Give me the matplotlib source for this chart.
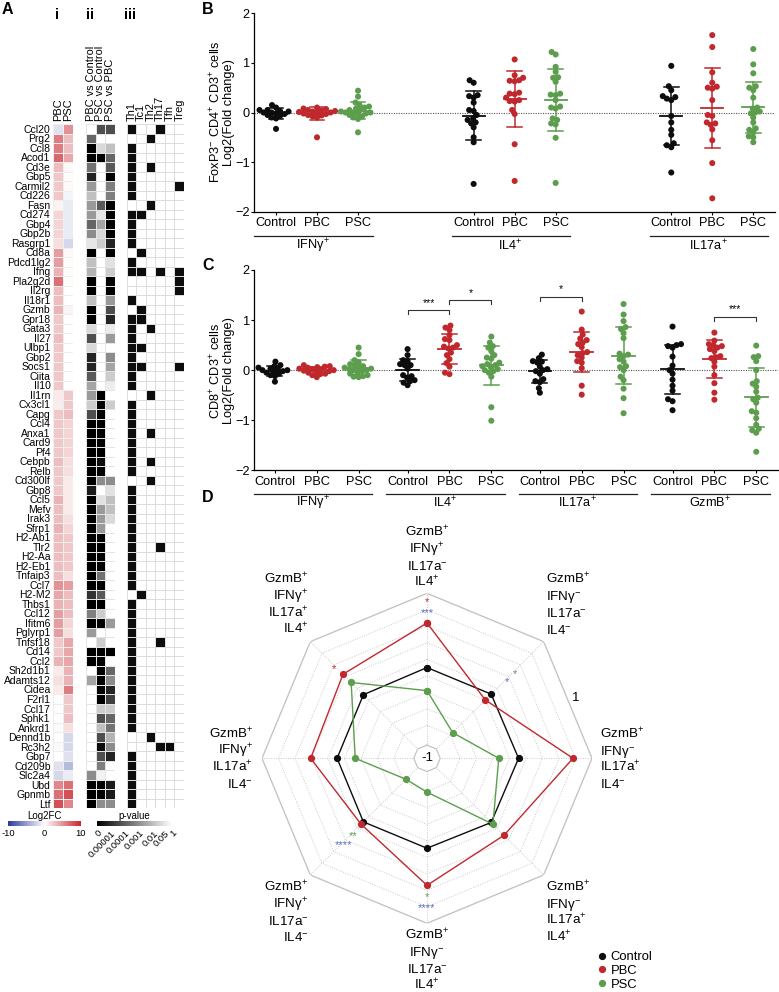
"""Figure: PBC/PSC gene signature heatmaps, T cell cytokine strip plots and radar chart."""

import numpy as np
import matplotlib

matplotlib.use("Agg")
import matplotlib.pyplot as plt
from matplotlib.colors import LinearSegmentedColormap
from matplotlib.lines import Line2D
from matplotlib.transforms import blended_transform_factory

plt.rcParams["font.family"] = ["Liberation Sans", "DejaVu Sans"]
plt.rcParams["mathtext.fontset"] = "custom"
plt.rcParams["mathtext.rm"] = "Liberation Sans"
plt.rcParams["mathtext.sf"] = "Liberation Sans"
plt.rcParams["mathtext.it"] = "Liberation Sans:italic"
plt.rcParams["mathtext.bf"] = "Liberation Sans:bold"

W, H = 779, 992

# ---------------- panel A data ----------------
genes = [
    "Ccl20", "Prg2", "Ccl8", "Acod1", "Cd3e", "Gbp5", "Carmil2", "Cd226", "Fasn", "Cd274",
    "Gbp4", "Gbp2b", "Rasgrp1", "Cd8a", "Pdcd1lg2", "Ifng", "Pla2g2d", "Il2rg", "Il18r1", "Gzmb",
    "Gpr18", "Gata3", "Il27", "Ulbp1", "Gbp2", "Socs1", "Ciita", "Il10", "Il1rn", "Cx3cl1",
    "Capg", "Ccl4", "Anxa1", "Card9", "Pf4", "Cebpb", "Relb", "Cd300lf", "Gbp8", "Ccl5",
    "Mefv", "Irak3", "Sfrp1", "H2-Ab1", "Tlr2", "H2-Aa", "H2-Eb1", "Tnfaip3", "Ccl7", "H2-M2",
    "Thbs1", "Ccl12", "Ifitm6", "Pglyrp1", "Tnfsf18", "Cd14", "Ccl2", "Sh2d1b1", "Adamts12", "Cidea",
    "F2rl1", "Ccl17", "Sphk1", "Ankrd1", "Dennd1b", "Rc3h2", "Gbp7", "Cd209b", "Slc2a4", "Ubd",
    "Gpnmb", "Ltf",
]

log2fc_pbc = [
    -1.5, 6, 6, 7, 3, 2.5, 2.5, 2.5, 0.5, 2,
    2, 2, 1.5, 4.5, 4.5, 3.5, 6.5, 3, 3, 3.5,
    2.5, 2.5, 3, 2.5, 2.5, 2.5, 2.5, 2.5, 1, 0.8,
    2.5, 2.5, 2.5, 2.5, 2.5, 3, 2.5, 2.5, 2.5, 3.5,
    3, 3, 3.5, 3, 3, 3, 3, 3, 5, 4,
    3.5, 4.5, 4.5, 4.5, 2.5, 2.5, 3.5, 1, 1.5, 1,
    0, 0, 0, -0.3, 0, -0.3, 0, -1.5, -2, 5.5,
    6.5, 8,
]
log2fc_psc = [
    5, 3, 3, 4, 0.3, 0.2, 0.3, -0.5, -1, -1,
    -1, -1, -2, 0.3, 0.2, 0.2, 0.2, 0, 0, 0.5,
    0, 0, 0, 0, 0, 0, 0, 0, 2.5, 2.5,
    3, 2, 2, 2, 2, 1.5, 1.5, 1, 1, 1,
    1, 1.5, 2, 2.5, 2.5, 2.5, 2.5, 1.5, 4.5, 3,
    3, 3, 2, 1.5, 4, 4, 4, 3.5, 3.5, 6,
    2.5, 2.5, 3, 1.5, -2, -2, -1.5, -3.5, -1, 6.5,
    8, 5.5,
]

p_pbc_vs_control = [
    1, 2.4e-4, 0, 0, 4.8e-4, 8e-6, 3e-3, 0.01, 3e-3, 3e-3,
    2.4e-4, 9.5e-4, 0.05, 0, 0.01, 7.6e-3, 0, 0, 0.01, 0,
    0, 0.037, 7e-5, 0.037, 8e-6, 8e-6, 9e-5, 5e-3, 3e-3, 0.023,
    7e-5, 0, 0, 0, 0, 0, 0, 0, 6e-6, 0,
    0, 0, 0, 0, 0, 0, 0, 0, 0, 1.9e-5,
    0, 7e-4, 0, 3e-3, 1, 0, 0, 1, 5e-3, 1,
    1, 1, 1, 1, 1, 1, 1, 1, 9.5e-4, 0,
    0, 0,
]
p_psc_vs_control = [
    7e-5, 1, 0.037, 0, 1, 1, 1, 1, 9e-5, 0.05,
    5e-3, 0.037, 0.023, 1, 1, 1, 1, 1, 1, 1,
    1, 1, 1, 1, 1, 1, 1, 1, 0, 0,
    0, 0, 0, 0, 0, 3e-6, 0, 9.5e-4, 1, 0.045,
    3e-3, 3e-3, 3e-3, 0, 0, 0, 0, 4.8e-4, 0, 9e-5,
    0, 0.023, 0, 1, 0.023, 0, 0, 0, 0, 0,
    0, 0.023, 7e-5, 0.01, 7e-5, 3e-6, 7e-5, 7e-4, 0.5, 0,
    0, 9.5e-4,
]
p_psc_vs_pbc = [
    7e-5, 1, 0.01, 2.4e-4, 9e-5, 0, 7e-4, 7e-4, 0, 0,
    0, 0, 8e-6, 0, 0.045, 0.023, 0, 0, 3e-3, 7e-5,
    8e-6, 0.24, 3e-3, 1, 9.5e-4, 5e-3, 0.023, 0.33, 1, 0.023,
    1, 1, 1, 1, 1, 1, 1, 9.5e-4, 0.045, 0.01,
    0.01, 0.037, 1, 1, 1, 1, 1, 1, 1, 1,
    1, 1, 3e-3, 1, 1, 0, 1, 2.4e-4, 9.5e-4, 8e-6,
    4.3e-5, 0.023, 2.4e-4, 4.8e-4, 7.6e-3, 9.5e-4, 8e-6, 1, 1, 6e-6,
    6e-6, 9.5e-4,
]

subset_names = ["Th1", "Tc1", "Th2", "Th17", "Tfh", "Treg"]
not_th1 = ["Prg2", "Fasn", "Cd8a", "Pla2g2d", "Il2rg", "Gzmb", "Il1rn", "Cd300lf",
           "H2-M2", "Dennd1b", "Rc3h2"]
tc1_genes = ["Cd274", "Cd8a", "Ifng", "Gzmb", "Gpr18", "Ulbp1", "Socs1", "H2-M2"]
th2_genes = ["Prg2", "Cd3e", "Fasn", "Gata3", "Il1rn", "Anxa1", "Cebpb", "Cd300lf", "Dennd1b"]
th17_genes = ["Ccl20", "Ifng", "Tlr2", "Tnfsf18", "Rc3h2"]
tfh_genes = ["Rc3h2"]
treg_genes = ["Carmil2", "Ifng", "Pla2g2d", "Il2rg", "Socs1"]

p_ticks = [0, 1e-5, 1e-4, 1e-3, 1e-2, 0.05, 1]
p_tick_labels = ["0", "0.00001", "0.0001", "0.001", "0.01", "0.05", "1"]

# ---------------- panel B data ----------------
b_ifng_ctrl = [0.15, 0.1, 0.05, 0.05, 0.03, 0.02, 0.0, 0.0, -0.02, -0.03, -0.05, -0.07, -0.1, -0.12, -0.33]
b_ifng_pbc = [0.1, 0.08, 0.07, 0.05, 0.04, 0.03, 0.02, 0.01, 0.0, 0.0, -0.02, -0.03, -0.05, -0.06, -0.08, -0.1, -0.5]
b_ifng_psc = [0.44, 0.32, 0.2, 0.15, 0.12, 0.1, 0.08, 0.05, 0.05, 0.02, 0.0, 0.0, 0.0, -0.02, -0.03,
              -0.05, -0.08, -0.1, -0.13, -0.4]
b_il4_ctrl = [0.65, 0.6, 0.35, 0.33, 0.3, 0.2, 0.05, 0.03, -0.05, -0.12, -0.15, -0.2, -0.22, -0.3, -0.5,
              -0.6, -1.44]
b_il4_pbc = [1.07, 0.75, 0.7, 0.65, 0.64, 0.63, 0.4, 0.38, 0.37, 0.3, 0.25, 0.23, 0.22, 0.05, -0.03,
             -0.64, -1.38]
b_il4_psc = [1.22, 1.17, 0.92, 0.82, 0.71, 0.70, 0.62, 0.38, 0.36, 0.35, 0.25, 0.12, 0.10, 0.08, -0.12,
             -0.15, -0.22, -0.24, -0.51, -1.42]
b_il17_ctrl = [0.94, 0.53, 0.45, 0.33, 0.31, 0.28, 0.25, -0.07, -0.2, -0.35, -0.45, -0.62, -0.66, -0.7, -1.21]
b_il17_pbc = [1.56, 1.32, 0.81, 0.6, 0.52, 0.5, 0.48, 0.25, -0.05, -0.07, -0.2, -0.22, -0.25, -0.34,
              -0.56, -1.02, -1.73]
b_il17_psc = [1.28, 0.97, 0.79, 0.53, 0.5, 0.45, 0.3, 0.1, 0.08, 0.02, 0.0, -0.02, -0.1, -0.2, -0.32,
              -0.35, -0.4, -0.48, -0.5, -0.6]

# ---------------- panel C data ----------------
c_ifng_ctrl = [0.17, 0.1, 0.08, 0.05, 0.03, 0.02, 0.0, 0.0, -0.02, -0.03, -0.05, -0.07, -0.1, -0.12, -0.23]
c_ifng_pbc = [0.1, 0.08, 0.07, 0.06, 0.05, 0.03, 0.02, 0.01, 0.0, -0.01, -0.02, -0.03, -0.05, -0.07,
              -0.08, -0.1, -0.14]
c_ifng_psc = [0.45, 0.32, 0.2, 0.15, 0.12, 0.1, 0.08, 0.05, 0.05, 0.03, 0.02, 0.0, 0.0, -0.02, -0.05,
              -0.07, -0.1, -0.12, -0.13, -0.14]
c_il4_ctrl = [0.42, 0.3, 0.2, 0.1, 0.18, 0.12, 0.1, 0.03, -0.12, -0.15, -0.1, -0.2, -0.22, -0.25, -0.3]
c_il4_pbc = [0.89, 0.85, 0.8, 0.7, 0.62, 0.6, 0.5, 0.47, 0.45, 0.43, 0.35, 0.3, 0.22, 0.14, 0.07, -0.05, -0.08]
c_il4_psc = [0.67, 0.55, 0.48, 0.45, 0.38, 0.3, 0.25, 0.23, 0.15, 0.12, 0.1, 0.08, 0.06, 0.02, 0.0,
             -0.02, -0.05, -0.13, -0.74, -1.01]
c_il17_ctrl = [0.31, 0.24, 0.18, 0.17, 0.15, 0.07, 0.02, 0.0, -0.02, -0.07, -0.18, -0.22, -0.24, -0.36, -0.45]
c_il17_pbc = [1.17, 0.81, 0.71, 0.63, 0.6, 0.55, 0.52, 0.46, 0.36, 0.34, 0.3, 0.25, 0.18, 0.15, 0.04,
              -0.31, -0.49]
c_il17_psc = [1.32, 1.11, 0.98, 0.86, 0.82, 0.74, 0.64, 0.33, 0.31, 0.28, 0.22, 0.17, 0.08, 0.06, 0.0,
              -0.13, -0.2, -0.37, -0.56, -0.86]
c_gzmb_ctrl = [0.87, 0.52, 0.5, 0.48, 0.45, 0.27, 0.09, 0.0, -0.07, -0.19, -0.31, -0.41, -0.58, -0.62, -0.8]
c_gzmb_pbc = [0.75, 0.59, 0.52, 0.5, 0.48, 0.45, 0.42, 0.38, 0.28, 0.26, 0.24, 0.17, 0.07, -0.1, -0.26,
              -0.45, -0.59]
c_gzmb_psc = [0.49, 0.28, 0.26, 0.18, 0.0, -0.22, -0.27, -0.33, -0.43, -0.55, -0.58, -0.65, -0.82, -0.85,
              -0.96, -1.09, -1.17, -1.2, -1.25, -1.63]

# significance brackets in C: (group index, left member, right member, height, text)
c_brackets = [(1, 0, 1, 1.2, "***"), (1, 1, 2, 1.4, "*"), (2, 0, 1, 1.47, "*"), (3, 1, 2, 1.07, "***")]

# ---------------- panel D data ----------------
P, M = "$^{+}$", "$^{-}$"
radar_labels = [
    [f"GzmB{P}", f"IFNγ{P}", f"IL17a{M}", f"IL4{P}"],
    [f"GzmB{P}", f"IFNγ{M}", f"IL17a{M}", f"IL4{M}"],
    [f"GzmB{P}", f"IFNγ{M}", f"IL17a{P}", f"IL4{M}"],
    [f"GzmB{P}", f"IFNγ{M}", f"IL17a{P}", f"IL4{P}"],
    [f"GzmB{P}", f"IFNγ{M}", f"IL17a{M}", f"IL4{P}"],
    [f"GzmB{P}", f"IFNγ{P}", f"IL17a{M}", f"IL4{M}"],
    [f"GzmB{P}", f"IFNγ{P}", f"IL17a{P}", f"IL4{M}"],
    [f"GzmB{P}", f"IFNγ{P}", f"IL17a{P}", f"IL4{P}"],
]
radar_control = [0.10, 0.10, 0.11, 0.10, 0.09, 0.09, 0.09, 0.09]
radar_pbc = [0.64, 0.00, 0.77, 0.32, 0.54, 0.13, 0.41, 0.44]
radar_psc = [-0.18, -0.56, -0.13, 0.13, -0.59, -0.64, -0.13, 0.30]
# (axis index, stars, colour key)
radar_sig = [(0, "*", "pbc"), (0, "***", "cmp"), (1, "*", "psc"), (1, "*", "cmp"), (7, "*", "pbc"),
             (5, "**", "psc"), (5, "****", "cmp"), (4, "*", "psc"), (4, "****", "cmp")]

groups = ["Control", "PBC", "PSC"]
colors = {"Control": "#0d0d0d", "PBC": "#c0282d", "PSC": "#5c9e4e"}
sig_colors = {"pbc": "#c0282d", "psc": "#5c9e4e", "cmp": "#5b6fc4"}


def px_rect(x0, y0, x1, y1):
    return [x0 / W, 1 - y1 / H, (x1 - x0) / W, (y1 - y0) / H]


def swarm_offsets(values, y_px, diameter=4.6):
    values = np.asarray(values, dtype=float)
    offsets = np.zeros(len(values))
    placed = []
    candidates = sorted(np.arange(-40, 40.5, 0.5), key=lambda c: (abs(c), c))
    for idx in np.argsort(values):
        y = values[idx] * y_px
        for c in candidates:
            if all((c - px) ** 2 + (y - py) ** 2 >= diameter ** 2 for px, py in placed):
                break
        offsets[idx] = c
        placed.append((c, y))
    return offsets


def strip_panel(ax, series, xpos, x_px, y_px):
    for vals, x, name in zip(series, xpos, groups * (len(series) // 3)):
        vals = np.asarray(vals)
        color = colors[name]
        ax.scatter(x + swarm_offsets(vals, y_px) / x_px, vals, s=19, color=color,
                   edgecolors="none", zorder=3)
        mean, sd = vals.mean(), vals.std(ddof=1)
        ax.plot([x - 0.27, x + 0.27], [mean, mean], color=color, lw=1.3, zorder=4)
        ax.plot([x, x], [mean - sd, mean + sd], color=color, lw=1.1, zorder=4)
        for yy in (mean - sd, mean + sd):
            ax.plot([x - 0.18, x + 0.18], [yy, yy], color=color, lw=1.1, zorder=4)


def style_strip(ax, xpos, offsets, span, names, line_y, label_y):
    ax.set_ylim(-2, 2)
    ax.set_yticks([-2, -1, 0, 1, 2])
    ax.set_xticks(xpos, groups * len(offsets))
    ax.tick_params(length=2.5, width=0.8, pad=1.5, labelsize=9.2)
    ax.tick_params(axis="y", pad=0.5)
    for side in ("top", "right"):
        ax.spines[side].set_visible(False)
    for side in ("left", "bottom"):
        ax.spines[side].set_linewidth(0.9)
    ax.axhline(0, color="#555555", lw=0.8, ls=(0, (1, 1.2)), zorder=1)
    trans = blended_transform_factory(ax.transData, ax.transAxes)
    for off, name in zip(offsets, names):
        ax.plot([off + span[0], off + span[1]], [line_y, line_y], transform=trans,
                clip_on=False, color="#222222", lw=0.9)
        ax.text(off + 0.9, label_y, name, transform=trans, ha="center", va="center", fontsize=9.2)


fig = plt.figure(figsize=(W / 100, H / 100), dpi=100)

# ================= panel A =================
n = len(genes)
fc_cmap = LinearSegmentedColormap.from_list("fc", ["#2b3b97", "#ffffff", "#c8262d"])
p_pos = [0, 0.18, 0.37, 0.56, 0.75, 0.9, 1.0]

ax_i = fig.add_axes(px_rect(53.3, 124, 73.3, 808.3))
fc = np.column_stack([log2fc_pbc, log2fc_psc])
ax_i.pcolormesh(fc, cmap=fc_cmap, vmin=-10, vmax=10, edgecolors="#eeeeee", linewidth=0.4)
ax_i.set_yticks(np.arange(n) + 0.5, genes, fontsize=7.5)
ax_i.set_xticks([0.5, 1.5], ["PBC", "PSC"], rotation=90, fontsize=7.9)

ax_ii = fig.add_axes(px_rect(86, 124, 115, 808.3))
pv = np.column_stack([np.interp(p, p_ticks, p_pos)
                      for p in (p_pbc_vs_control, p_psc_vs_control, p_psc_vs_pbc)])
ax_ii.pcolormesh(pv, cmap="gray", vmin=0, vmax=1, edgecolors="#e4e4e4", linewidth=0.4)
ax_ii.set_yticks([])
ax_ii.set_xticks([0.5, 1.5, 2.5], ["PBC vs Control", "PSC vs Control", "PSC vs PBC"],
                 rotation=90, fontsize=7.9)

ax_iii = fig.add_axes(px_rect(126.7, 124, 184, 808.3))
th1_genes = [g for g in genes if g not in not_th1]
member = np.column_stack([[1.0 if g in s else 0.0 for g in genes]
                          for s in (th1_genes, tc1_genes, th2_genes, th17_genes, tfh_genes, treg_genes)])
ax_iii.pcolormesh(member, cmap=LinearSegmentedColormap.from_list("bw", ["#ffffff", "#0d0d0d"]),
                  vmin=0, vmax=1, edgecolors="#dddddd", linewidth=0.4)
ax_iii.set_yticks([])
ax_iii.set_xticks(np.arange(6) + 0.5, subset_names, rotation=90, fontsize=7.9)

for ax in (ax_i, ax_ii, ax_iii):
    ax.set_ylim(n, 0)
    ax.xaxis.tick_top()
    ax.tick_params(length=0, pad=2)
    for s in ax.spines.values():
        s.set_visible(False)

for x, lab in ((57, "i"), (90, "ii"), (130, "iii")):
    fig.text(x / W, 1 - 15 / H, lab, fontsize=10.5, fontweight="bold", ha="center", va="center")

cax1 = fig.add_axes(px_rect(8.3, 821, 80.7, 826))
cax1.imshow(np.linspace(-10, 10, 256)[None, :], aspect="auto", cmap=fc_cmap, extent=[-10, 10, 0, 1])
cax1.set_yticks([])
cax1.set_xticks([-10, 0, 10], ["-10", "0", "10"])
cax1.set_title("Log2FC", fontsize=7, pad=1.5)

cax2 = fig.add_axes(px_rect(97.3, 821, 172, 826))
cax2.imshow(np.linspace(0, 1, 256)[None, :], aspect="auto", cmap="gray", extent=[0, 1, 0, 1])
cax2.set_yticks([])
cax2.set_xticks(p_pos, p_tick_labels, rotation=45, ha="right", rotation_mode="anchor")
cax2.set_title("p-value", fontsize=7, pad=1.5)
for cax in (cax1, cax2):
    cax.tick_params(length=0, pad=2, labelsize=6.8)
    for s in cax.spines.values():
        s.set_visible(False)

# ================= panel B =================
axB = fig.add_axes(px_rect(254, 13.3, 775, 211.7))
b_offsets = [0, 4.82, 9.64]
b_xpos = [o + k for o in b_offsets for k in range(3)]
strip_panel(axB, [b_ifng_ctrl, b_ifng_pbc, b_ifng_psc, b_il4_ctrl, b_il4_pbc, b_il4_psc,
                  b_il17_ctrl, b_il17_pbc, b_il17_psc], b_xpos, 41, 49.6)
axB.set_xlim(-0.537, 12.17)
style_strip(axB, b_xpos, b_offsets, (-0.53, 2.36), [f"IFNγ{P}", f"IL4{P}", f"IL17a{P}"], -0.1225, -0.172)
fig.text(222 / W, 1 - 112 / H, f"FoxP3{M} CD4{P} CD3{P} cells\nLog2(Fold change)", rotation=90,
         ha="center", va="center", fontsize=9.2, linespacing=0.95)

# ================= panel C =================
axC = fig.add_axes(px_rect(254, 270, 778, 470.3))
c_offsets = [0, 3.17, 6.33, 9.5]
c_xpos = [o + k for o in c_offsets for k in range(3)]
strip_panel(axC, [c_ifng_ctrl, c_ifng_pbc, c_ifng_psc, c_il4_ctrl, c_il4_pbc, c_il4_psc,
                  c_il17_ctrl, c_il17_pbc, c_il17_psc, c_gzmb_ctrl, c_gzmb_pbc, c_gzmb_psc],
            c_xpos, 42, 50)
axC.set_xlim(-0.5, 12.02)
style_strip(axC, c_xpos, c_offsets, (-0.51, 2.32), [f"IFNγ{P}", f"IL4{P}", f"IL17a{P}", f"GzmB{P}"],
            -0.118, -0.163)
for g, a, b, h, stars in c_brackets:
    x0, x1 = c_offsets[g] + a, c_offsets[g] + b
    axC.plot([x0, x0, x1, x1], [h - 0.08, h, h, h - 0.08], color="#333333", lw=0.8)
    axC.text((x0 + x1) / 2, h + 0.04, stars, ha="center", va="bottom", fontsize=7.5)
fig.text(222 / W, 1 - 370.3 / H, f"CD8{P} CD3{P} cells\nLog2(Fold change)", rotation=90,
         ha="center", va="center", fontsize=9.2, linespacing=0.95)

# ================= panel D =================
axD = fig.add_axes(px_rect(262, 593.3, 592, 923.3), projection="polar")
axD.set_theta_zero_location("N")
axD.set_theta_direction(-1)
axD.set_ylim(-1, 1)
axD.set_axis_off()
theta = np.deg2rad(np.arange(8) * 45.0)
ring = np.append(theta, theta[0])
for lev in np.arange(-0.6, 0.85, 0.2):
    axD.plot(ring, np.full(9, lev), color="#c9c9c9", lw=0.7, ls=(0, (1, 1.5)), zorder=1)
for t in theta:
    axD.plot([t, t], [-0.85, 1], color="#c9c9c9", lw=0.7, ls=(0, (1, 1.5)), zorder=1)
axD.plot(ring, np.ones(9), color="#c4c4c4", lw=1.0, zorder=1)
axD.fill(ring, np.full(9, -0.84), color="white", zorder=2)
axD.plot(ring, np.full(9, -0.84), color="#c4c4c4", lw=0.9, zorder=2)
axD.text(0, -1, "-1", ha="center", va="center", fontsize=9.6, zorder=3)
axD.text(np.deg2rad(68), 0.95, "1", ha="center", va="center", fontsize=9.6)

for vals, name in zip((radar_control, radar_pbc, radar_psc), groups):
    axD.plot(ring, np.append(vals, vals[0]), color=colors[name], lw=1.0, marker="o", ms=4.2,
             zorder=4)

# block centre offset (points) from the outer vertex, and horizontal alignment
label_place = [((0, 26.4), "center"), ((2, 27.2), "left"), ((5.8, 0), "left"), ((2, -26.2), "left"),
               ((0, -26.4), "center"), ((-1.5, -26.2), "right"), ((-6.6, 0), "right"),
               ((-1.5, 27.2), "right")]
line_step = 12.0
for t, lines, ((ox, oy), ha) in zip(theta, radar_labels, label_place):
    for j, line in enumerate(lines):
        axD.annotate(line, xy=(t, 1), xytext=(ox, oy + (1.5 - j) * line_step - 3.5),
                     textcoords="offset points", ha=ha, va="baseline", fontsize=9.6)

sig_r = [0.94, 0.80, 0.50, 0.37, 0.59, 0.27, 0.43, 0.64, 0.77]
for (k, stars, key), r in zip(radar_sig, sig_r):
    axD.annotate(stars, xy=(theta[k], r), xytext=(0, -2.5), textcoords="offset points",
                 ha="center", va="center", fontsize=8, color=sig_colors[key])

handles = [Line2D([], [], ls="none", marker="o", ms=4.2, color=colors[g]) for g in groups]
fig.legend(handles, groups, loc="upper left", bbox_to_anchor=(598 / W, 1 - 951 / H), frameon=False,
           fontsize=9.4, handlelength=0.6, handletextpad=0.35, labelspacing=0.12, borderpad=0,
           borderaxespad=0)

# panel letters
for x, y, lab in ((7, 9, "A"), (208, 9, "B"), (208, 266, "C"), (208, 497, "D")):
    fig.text(x / W, 1 - y / H, lab, fontsize=11.5, fontweight="bold", ha="center", va="center")

fig.savefig("out.png", dpi=100)
